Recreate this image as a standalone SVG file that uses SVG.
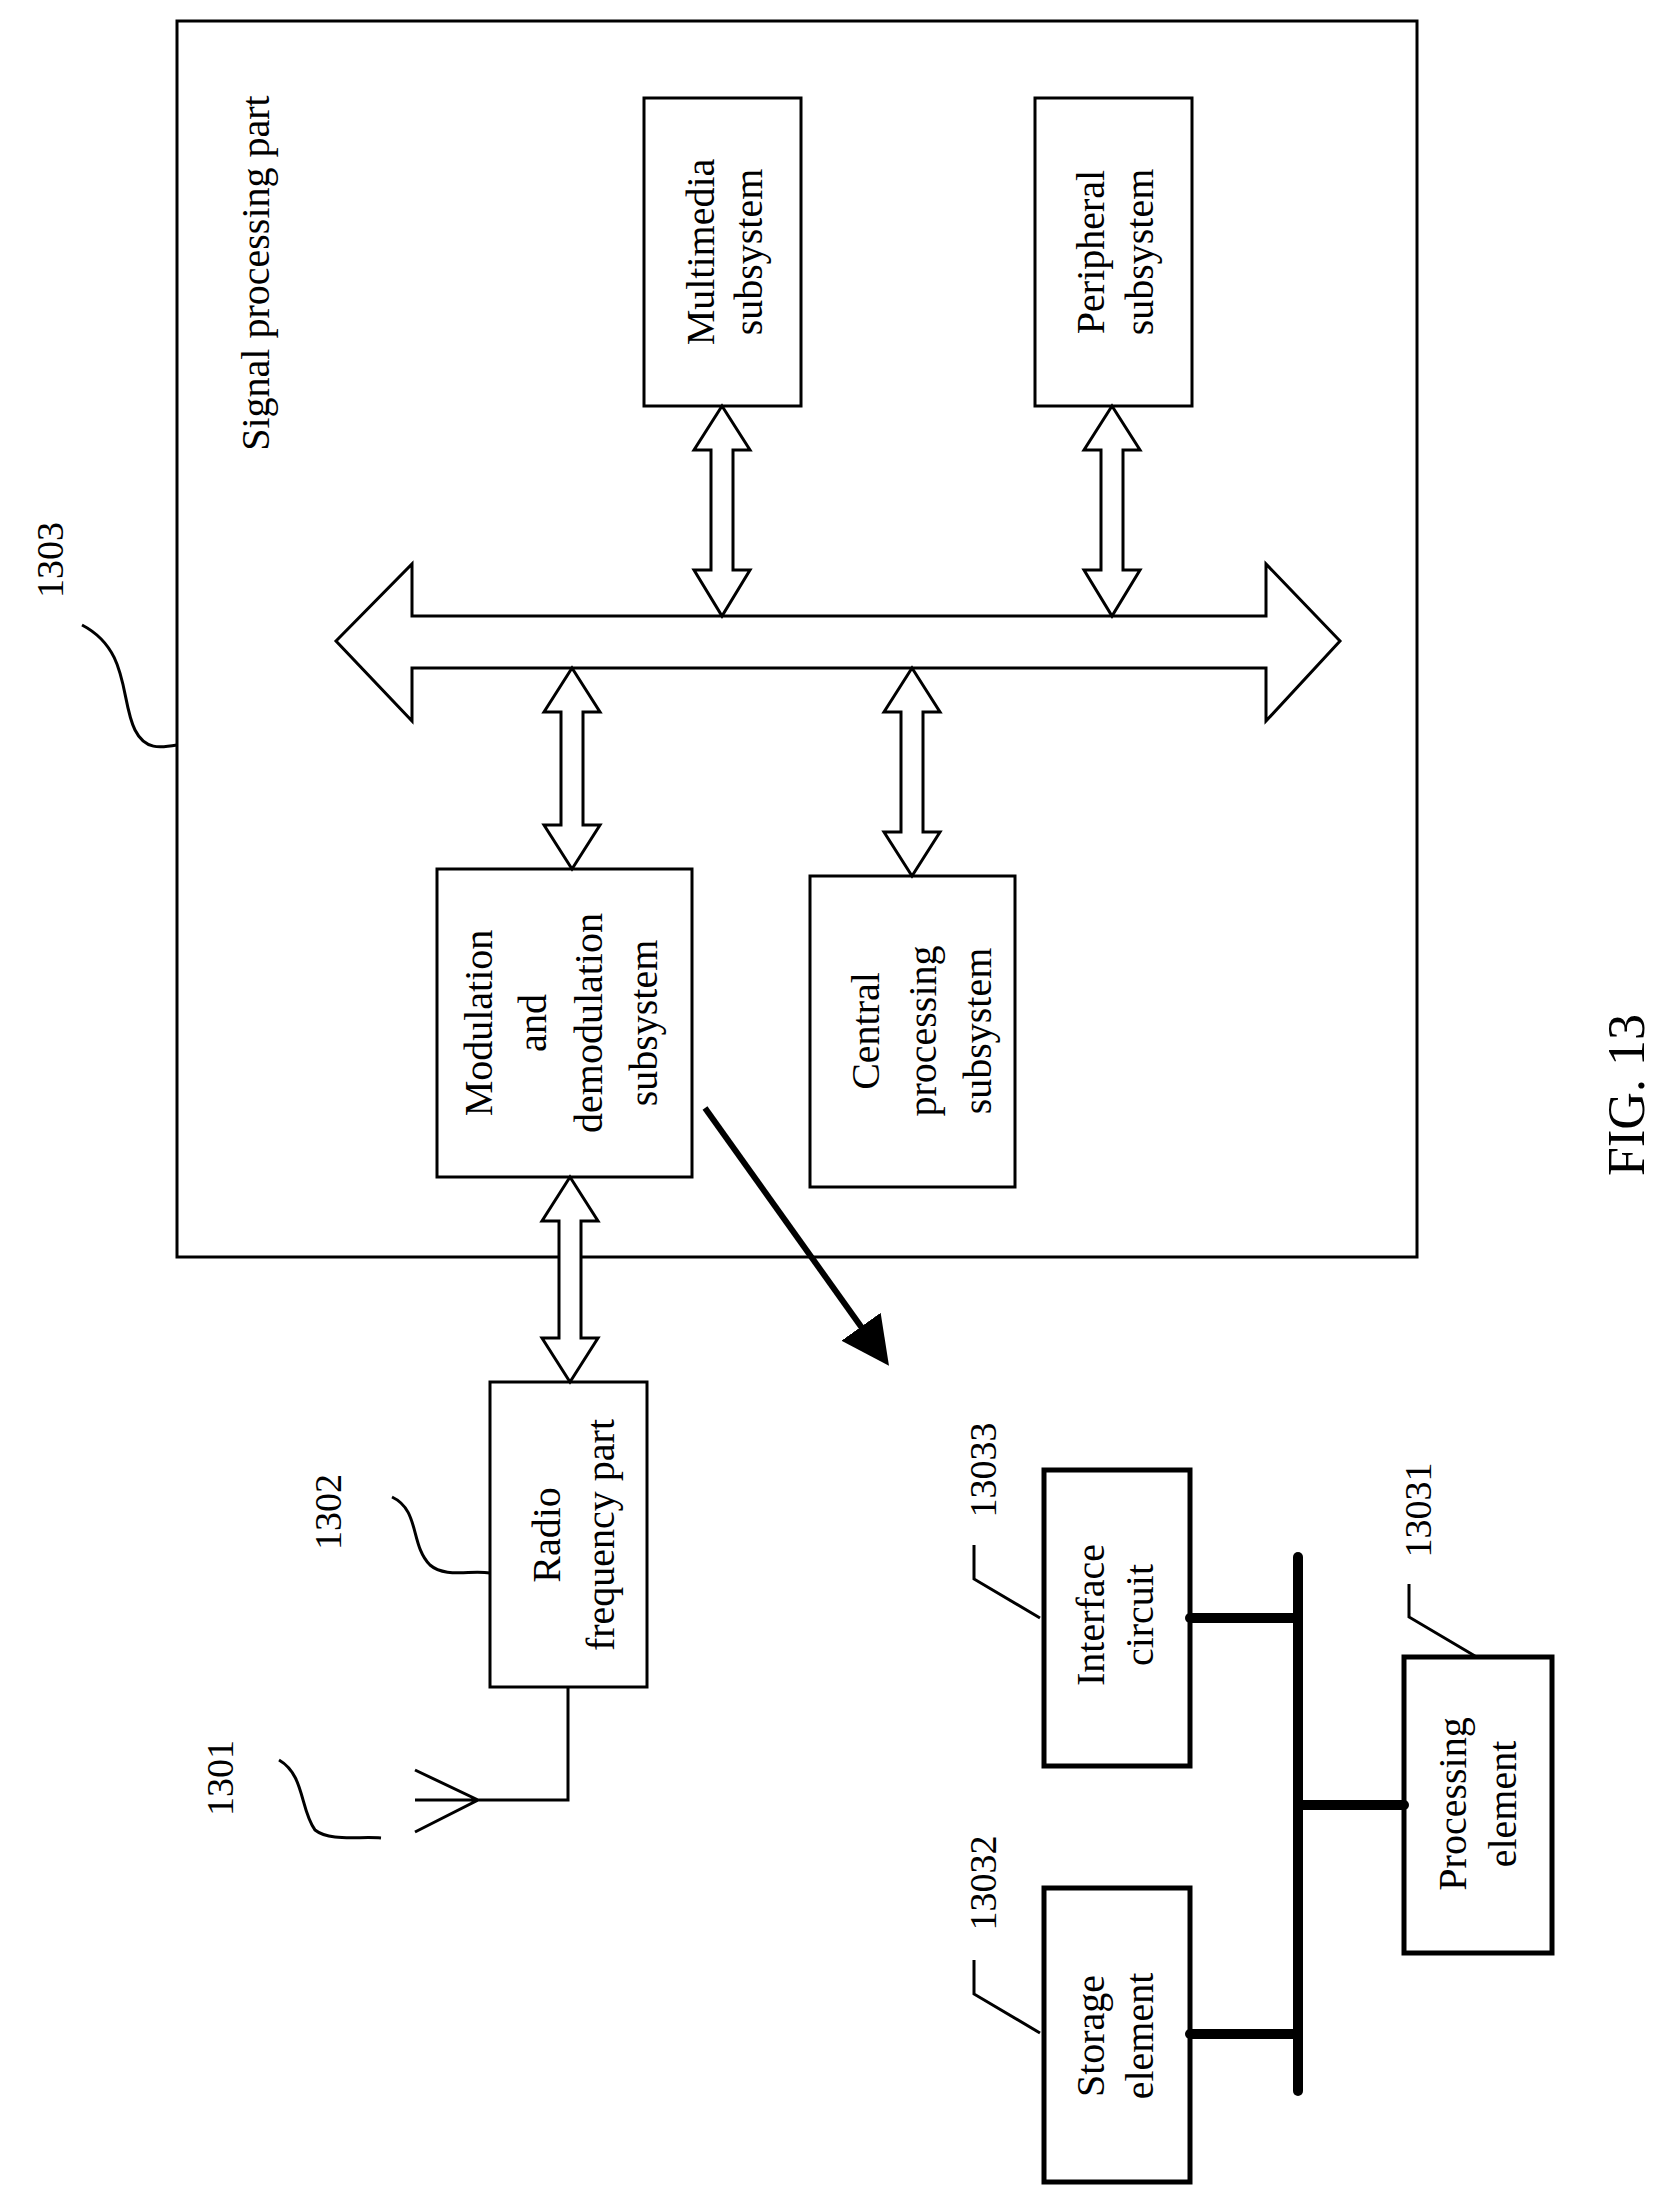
<svg xmlns="http://www.w3.org/2000/svg" width="1665" height="2200" viewBox="0 0 1665 2200">
<style>
.b{fill:#fff;stroke:#000;stroke-width:3}
.l{fill:none;stroke:#000;stroke-width:3}
.t{font-family:"Liberation Serif",serif;font-size:40px;text-anchor:middle;fill:#000}
.n{font-family:"Liberation Serif",serif;font-size:38px;text-anchor:middle;fill:#000}
.bus{stroke:#000;stroke-width:10;stroke-linecap:round;fill:none}
</style>
<defs>
<marker id="ah" markerWidth="8" markerHeight="8" refX="6" refY="4" orient="auto" markerUnits="strokeWidth">
<path d="M0,0 L8,4 L0,8 Z" fill="#000"/>
</marker>
</defs>
<g id="n1303">
<rect class="b" x="177" y="21" width="1240" height="1236"/>
<text class="t" transform="translate(255,273) rotate(-90)" dy="0.35em">Signal processing part</text>
<text class="n" transform="translate(50,560) rotate(-90)" dy="0.35em">1303</text>
<path class="l" d="M82,625 C130,650 120,700 135,730 C145,750 160,748 177,745"/>
</g>
<g id="multimedia">
<rect class="b" x="644" y="98" width="157" height="308"/>
<text class="t" transform="translate(700,252) rotate(-90)" dy="0.35em">Multimedia</text>
<text class="t" transform="translate(748,252) rotate(-90)" dy="0.35em">subsystem</text>
</g>
<g id="peripheral">
<rect class="b" x="1035" y="98" width="157" height="308"/>
<text class="t" transform="translate(1090,252) rotate(-90)" dy="0.35em">Peripheral</text>
<text class="t" transform="translate(1139,252) rotate(-90)" dy="0.35em">subsystem</text>
</g>
<g id="modulation">
<rect class="b" x="437" y="869" width="255" height="308"/>
<text class="t" transform="translate(478,1023) rotate(-90)" dy="0.35em">Modulation</text>
<text class="t" transform="translate(532,1023) rotate(-90)" dy="0.35em">and</text>
<text class="t" transform="translate(588,1023) rotate(-90)" dy="0.35em">demodulation</text>
<text class="t" transform="translate(643,1023) rotate(-90)" dy="0.35em">subsystem</text>
</g>
<g id="central">
<rect class="b" x="810" y="876" width="205" height="311"/>
<text class="t" transform="translate(865,1031) rotate(-90)" dy="0.35em">Central</text>
<text class="t" transform="translate(922,1031) rotate(-90)" dy="0.35em">processing</text>
<text class="t" transform="translate(977,1031) rotate(-90)" dy="0.35em">subsystem</text>
</g>
<g id="rf">
<rect class="b" x="490" y="1382" width="157" height="305"/>
<text class="t" transform="translate(546,1535) rotate(-90)" dy="0.35em">Radio</text>
<text class="t" transform="translate(600,1535) rotate(-90)" dy="0.35em">frequency part</text>
<text class="n" transform="translate(328,1512) rotate(-90)" dy="0.35em">1302</text>
<path class="l" d="M392,1497 C420,1510 410,1545 430,1565 C445,1578 470,1570 490,1573"/>
</g>
<g id="antenna">
<text class="n" transform="translate(220,1778) rotate(-90)" dy="0.35em">1301</text>
<path class="l" d="M279,1760 C305,1775 300,1810 315,1830 C330,1842 360,1836 381,1838"/>
<path class="l" d="M415,1770 L478,1800 L415,1832 M415,1800 L568,1800 L568,1687"/>
</g>
<g id="interface">
<rect class="b" x="1044" y="1470" width="146" height="296" style="stroke-width:5"/>
<text class="t" transform="translate(1090,1615) rotate(-90)" dy="0.35em">Interface</text>
<text class="t" transform="translate(1139,1615) rotate(-90)" dy="0.35em">circuit</text>
<text class="n" transform="translate(983,1470) rotate(-90)" dy="0.35em">13033</text>
<path class="l" d="M974,1545 L974,1579 L1040,1618"/>
</g>
<g id="storage">
<rect class="b" x="1044" y="1888" width="146" height="294" style="stroke-width:5"/>
<text class="t" transform="translate(1090,2036) rotate(-90)" dy="0.35em">Storage</text>
<text class="t" transform="translate(1139,2036) rotate(-90)" dy="0.35em">element</text>
<text class="n" transform="translate(983,1883) rotate(-90)" dy="0.35em">13032</text>
<path class="l" d="M974,1960 L974,1994 L1040,2033"/>
</g>
<g id="processing">
<rect class="b" x="1404" y="1657" width="148" height="296" style="stroke-width:5"/>
<text class="t" transform="translate(1452,1804) rotate(-90)" dy="0.35em">Processing</text>
<text class="t" transform="translate(1502,1804) rotate(-90)" dy="0.35em">element</text>
<text class="n" transform="translate(1418,1510) rotate(-90)" dy="0.35em">13031</text>
<path class="l" d="M1409,1584 L1409,1617 L1475,1656"/>
</g>
<g id="connectors">
<polygon class="b" points="336,641 412,564 412,616 1266,616 1266,564 1340,641 1266,721 1266,668 412,668 412,721"/>
<polygon class="b" points="722,406 750,450 733,450 733,570 750,570 722,616 694,570 711,570 711,450 694,450"/>
<polygon class="b" points="1112,406 1140,450 1123,450 1123,570 1140,570 1112,616 1084,570 1101,570 1101,450 1084,450"/>
<polygon class="b" points="572,668 600,712 583,712 583,825 600,825 572,869 544,825 561,825 561,712 544,712"/>
<polygon class="b" points="912,668 940,712 923,712 923,832 940,832 912,876 884,832 901,832 901,712 884,712"/>
<polygon class="b" points="570,1177 598,1221 581,1221 581,1338 598,1338 570,1382 542,1338 559,1338 559,1221 542,1221"/>
<line x1="705" y1="1108" x2="882" y2="1356" stroke="#000" stroke-width="6" marker-end="url(#ah)"/>
<line class="bus" x1="1298" y1="1557" x2="1298" y2="2091"/>
<line class="bus" x1="1190" y1="1618" x2="1298" y2="1618"/>
<line class="bus" x1="1298" y1="1805" x2="1404" y2="1805"/>
<line class="bus" x1="1190" y1="2034" x2="1298" y2="2034"/>
</g>
<text font-family="Liberation Serif,serif" font-size="52" text-anchor="middle" transform="translate(1626,1095) rotate(-90)" dy="0.35em">FIG. 13</text>
</svg>
